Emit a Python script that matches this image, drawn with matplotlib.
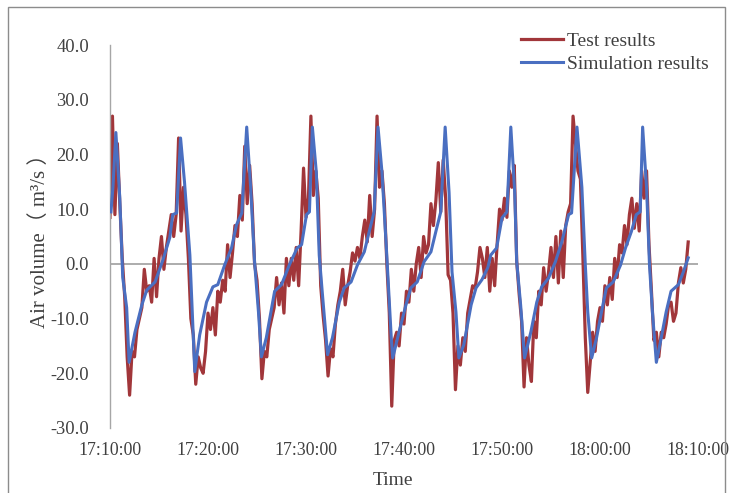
import numpy as np
import matplotlib
matplotlib.use("Agg")
import matplotlib.pyplot as plt
from matplotlib.patches import Rectangle

plt.rcParams['font.family'] = ['Liberation Serif', 'Noto Sans CJK SC', 'DejaVu Serif']

# ---- data (minutes after 17:10:00) ----
x_tick_pos = [0, 10, 20, 30, 40, 50, 60]
x_tick_labels = ["17:10:00", "17:20:00", "17:30:00", "17:40:00", "17:50:00", "18:00:00", "18:10:00"]
y_ticks = [40, 30, 20, 10, 0, -10, -20, -30]

test_start = 0.0
test_step = 0.25  # minutes between test samples
test_values = [
    8.5, 27, 9, 22, 11, 1, -6, -17, -24, -16, -17, -12, -10, -8, -1, -5, -4, -7, 1, -6,
    1, 5, -1, 3, 6, 9, 5, 9, 23, 6, 14, 9, 1, -10, -13, -22, -17, -19, -20, -16,
    -9, -12, -8, -13, -5, -7, -3, -5, 3.5, -2.5, 2, 7, 5, 12.5, 8, 21.5, 11, 18, 11, 0,
    -3, -10, -21, -16, -17, -12, -10, -8, -2.5, -7.5, -3.5, -9, 1, -4, 1, -3, 3, -4, 6, 17.5,
    8.5, 12, 27, 12.5, 17, 12, -4, -9.5, -14, -20.5, -15.5, -17, -11, -7.5, -5, -1, -7.5, -4, -1.5, 2,
    0.5, 3, 1, 5, 8, 4, 12.5, 5, 10, 27, 14, 17, 11, 0, -9, -26, -14, -12.5, -15, -9,
    -11, -5, -7, -1, -5, 0, 3, -2.5, 5, 2, 3.5, 11, 7, 11.5, 18.5, 9.5, 19, 12, -2, -3,
    -9, -23, -15, -18.5, -13.5, -16, -9, -6.5, -4, -4.5, -1.5, 3, 1, -2.5, 3, -5, 1, -4, 3.5, 10,
    8, 12, 8.5, 17, 14, 18, 0.5, -5.5, -10.5, -22.5, -13.5, -18.5, -21.5, -10.5, -13.5, -5, -7.5, -0.7, -5, -1.5,
    3, -2.5, 5, -3.5, 6, -2.5, 7, 9.5, 11, 27, 22, 17, 15.5, 1.5, -13.5, -23.5, -18, -12.5, -16, -10.5,
    -8, -10.5, -4, -7.5, -2.5, -6.5, 1, -2.5, 3.5, 2, 7, 3.5, 9, 12, 6.5, 11, 6, 17, 12, 17,
    3.5, -5, -14, -12.5, -17, -12.5, -13.5, -11, -7.5, -7, -10.5, -9, -3.5, -0.7, -3.5, -1, 4,
]

sim_time = [
    0.1, 0.3, 0.6, 1.0, 1.3, 1.7, 1.95, 2.55, 3.25, 3.75, 4.6, 5.4, 6.1, 6.4, 6.8,
    7.2, 7.6, 8.15, 8.65, 9.15, 9.85, 10.5, 11.0, 11.7, 12.4, 12.9, 13.45,
    13.95, 14.35, 14.75, 15.15, 15.45, 15.95, 16.8, 17.5, 18.3, 19.1, 19.55, 20.05, 20.35,
    20.65, 21.05, 21.35, 21.65, 22.2, 22.7, 23.4, 23.9, 24.6, 25.25, 25.95, 26.45, 26.95,
    27.35, 27.75, 28.2, 28.7, 28.85, 29.5, 30.2, 30.7, 31.35, 32.05, 32.75, 33.25, 33.75,
    34.2, 34.6, 34.9, 35.3, 35.6, 36.1, 36.85, 37.35, 37.95, 38.55, 38.85, 39.45, 40.0, 40.5,
    40.9, 41.3, 41.5, 41.9, 42.3, 42.95, 43.55, 44.05, 44.75, 45.45, 46.1, 46.8, 47.1,
    47.65, 48.15, 48.5, 48.75, 49.15, 49.65, 50.15, 50.65, 51.35, 52.1, 52.6, 53.2, 53.7, 54.1,
    54.35, 54.75, 55.05, 55.35, 55.75, 56.25, 56.75, 57.25, 58.0, 58.5, 59.0,
]
sim_values = [
    9.5, 14, 24, 12, -2.5, -8, -18, -12.5, -7.5, -4.8, -3.3, 0.7, 4.8, 9, 9.3,
    23, 15, 1.6, -19.7, -13, -7, -4.2, -3.8, -0.2, 2.9, 7.1, 9.3,
    25, 14, 0.4, -8.8, -17, -13.5, -5, -3.8, -0.2, 2.9, 3.5, 9, 9.5,
    25, 16.8, 1.6, -5, -16.6, -13.5, -7, -4.4, -3.3, -0.2, 2.2, 5.9, 9.5,
    25, 16.8, 2.9, -13.5, -17.2, -12.4, -7.5, -4.4, -3.3, 0.4, 2.2, 5.9, 9.5,
    25, 13, -1.5, -8.8, -17.2, -14.8, -7.5, -4.4, -2.9, -0.7, 1.6, 2.9, 8.4, 9.5,
    25, 13, 0.4, -7.5, -17.2, -12.4, -7, -4.2, -2.6, 0.4, 4, 9, 9.3,
    25, 14, -0.2, -8.8, -17.2, -13.5, -8.8, -4.4, -3.3, -0.2, 2.9, 5.9, 9, 9.5,
    25, 14, -0.2, -8.8, -18, -13.5, -8.8, -5, -3.8, -1.5, 1.1,
]

series_names = ["Test results", "Simulation results"]
series_colors = ["#A1363A", "#4A6FC1"]

test_time = test_start + test_step * np.arange(len(test_values))

# ---- figure ----
W, H = 731, 493
fig = plt.figure(figsize=(W / 100, H / 100), dpi=100)
fig.patches.append(Rectangle((8 / W, -0.05), (725 - 8) / W, 1.05 - 7 / H,
                             transform=fig.transFigure, fill=False,
                             edgecolor="#8C8C8C", linewidth=1.0))

ax = fig.add_axes([110 / W, 1 - 428 / H, (698 - 110) / W, (428 - 45) / H])
ax.set_xlim(0, 60)
ax.set_ylim(-30, 40)

ax.axhline(0, color="#A6A6A6", linewidth=1.3, zorder=1)
ax.plot(test_time, test_values, color=series_colors[0], linewidth=2.3,
        label=series_names[0], zorder=2)
ax.plot(sim_time, sim_values, color=series_colors[1], linewidth=2.2,
        label=series_names[1], zorder=3)

for s in ["top", "right", "bottom"]:
    ax.spines[s].set_visible(False)
ax.spines["left"].set_color("#A6A6A6")
ax.spines["left"].set_linewidth(1.0)

ax.set_yticks(y_ticks)
ax.set_yticklabels([f"{v:.1f}" for v in y_ticks], fontsize=13.3, color="#404040")
ax.set_xticks(x_tick_pos)
ax.set_xticklabels(x_tick_labels, fontsize=12.8, color="#404040")
ax.tick_params(axis="both", length=0)
ax.tick_params(axis="y", pad=15)
ax.tick_params(axis="x", pad=10)

ax.set_xlabel("Time", fontsize=14, color="#404040")
ax.xaxis.set_label_coords((393 - 110) / (698 - 110), -0.115)
ax.set_ylabel("Air volume\uff08 m\u00b3/s \uff09", fontsize=15, color="#404040")
ax.yaxis.set_label_coords(-(110 - 50) / (698 - 110), (428 - 236) / (428 - 45))

leg = ax.legend(loc="upper right", bbox_to_anchor=(709 / W, 1 - 32 / H),
                bbox_transform=fig.transFigure, frameon=False, fontsize=14,
                handlelength=2.2, handletextpad=0.2, labelspacing=0.28,
                borderpad=0, borderaxespad=0)
for t in leg.get_texts():
    t.set_color("#404040")

fig.savefig("out.png", dpi=100)
